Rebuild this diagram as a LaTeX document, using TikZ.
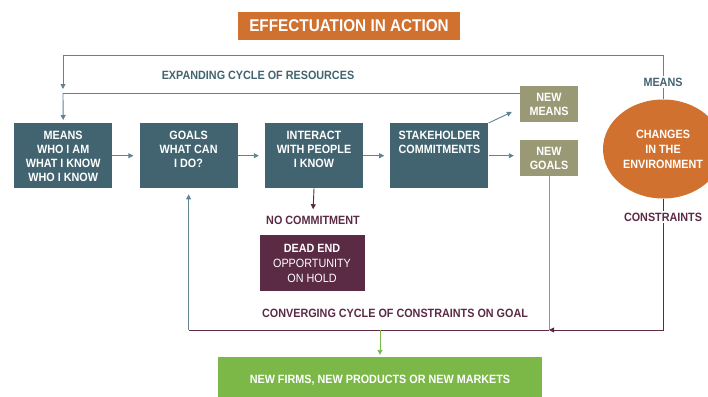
\documentclass[tikz,border=0pt]{standalone}
\usepackage{fontspec}
\setmainfont{Liberation Sans}[FakeStretch=0.9]
\usepackage{xcolor}
\usetikzlibrary{arrows.meta,positioning,shapes.geometric}

\definecolor{efTeal}{HTML}{426470}
\definecolor{efLine}{HTML}{5F8390}
\definecolor{efOlive}{HTML}{999A75}
\definecolor{efOrange}{HTML}{D1712F}
\definecolor{efMaroon}{HTML}{5B2A45}
\definecolor{efGreen}{HTML}{7BB848}

\newcommand{\cardtext}[1]{\parbox[c][65pt][t]{98pt}{\vspace*{8pt}\centering #1\par}}

\begin{document}
\begin{tikzpicture}[x=1pt, y=-1pt, >={Triangle[length=5pt,width=5pt]},
    font=\fontsize{12}{14}\selectfont\bfseries,
    card/.style={rectangle, fill=efTeal, text=white, inner sep=0pt},
    result/.style={rectangle, fill=efOlive, text=white, align=center, minimum width=58pt, minimum height=36pt, inner sep=0pt},
    tag/.style={fill=white, inner sep=1.5pt},
    line/.style={draw=efLine, line width=0.9pt}]
    \useasboundingbox (0,0) rectangle (708,396);
    \node[fill=efOrange, text=white, minimum width=222pt, minimum height=28pt,
        font=\fontsize{17}{19}\selectfont\bfseries] (title) at (349,26) {EFFECTUATION IN ACTION};
    % main chain
    \node[card, anchor=north west] (means) at (14,123) {\cardtext{MEANS\\WHO I AM\\WHAT I KNOW\\WHO I KNOW}};
    \node[card, right=27pt of means] (goals) {\cardtext{GOALS\\WHAT CAN\\I DO?}};
    \node[card, right=27pt of goals] (interact) {\cardtext{INTERACT\\WITH PEOPLE\\I KNOW}};
    \node[card, right=27pt of interact] (stake) {\cardtext{STAKEHOLDER\\COMMITMENTS}};
    \node[result] (newmeans) at (549,104) {NEW\\MEANS};
    \node[result] (newgoals) at (549,158) {NEW\\GOALS};
    \node[ellipse, fill=efOrange, text=white, align=center, minimum width=120pt, minimum height=99pt,
        inner sep=0pt, font=\fontsize{12}{15}\selectfont\bfseries] (env) at (663,149) {CHANGES\\IN THE\\ENVIRONMENT};
    \node[text=efMaroon] (nocommit) at (313,220) {NO COMMITMENT};
    \node[fill=efMaroon, text=white, align=center, minimum width=105pt, minimum height=56pt,
        font=\fontsize{12}{15}\selectfont\bfseries] (deadend) at (312,263)
        {DEAD END\\{\mdseries OPPORTUNITY}\\{\mdseries ON HOLD}};
    \node[fill=efGreen, text=white, minimum width=324pt, minimum height=46pt] (firms) at (380,380)
        {NEW FIRMS, NEW PRODUCTS OR NEW MARKETS};
    \node[text=efTeal] (expand) at (258,75) {EXPANDING CYCLE OF RESOURCES};
    \node[text=efMaroon] (converge) at (395,313) {CONVERGING CYCLE OF CONSTRAINTS ON GOAL};
    % cycles
    \coordinate (topleft) at (63,55);
    \coordinate (cyc) at (63,93);
    \coordinate (bottom) at (0,330);
    \draw[line, ->, shorten >=4pt] (env.north) -- node[tag, text=efTeal, pos=0.39] (meanslbl) {MEANS}
        (env.north |- topleft) -- (topleft) -- (cyc);
    \draw[line] (newmeans.west |- cyc) -- (cyc);
    \draw[line, ->, shorten >=3pt] (cyc) -- (means.north);
    \draw[line, ->, shorten >=6pt] (means) -- (goals);
    \draw[line, ->, shorten >=6pt] (goals) -- (interact);
    \draw[line, ->, shorten >=6pt] (interact) -- (stake);
    \draw[line, ->, shorten >=6pt] (stake.east) -- (stake.east -| newgoals.west);
    \draw[line, ->] (stake.north east) -- ([shift={(-8pt,-8pt)}]newmeans.west);
    \draw[draw=efMaroon, line width=0.9pt, ->, shorten >=3pt] (interact.south) -- (nocommit.north);
    \draw[draw=efOlive, line width=0.9pt] (newgoals.south) -- (newgoals.south |- bottom);
    \draw[draw=efMaroon, line width=0.9pt, ->] (env.south) -- node[tag, text=efMaroon, pos=0.14] (constlbl) {CONSTRAINTS}
        (env.south |- bottom) -- (newgoals.south |- bottom);
    \draw[draw=efMaroon, line width=0.9pt] (newgoals.south |- bottom) -- (goals.south |- bottom);
    \draw[line, ->, shorten >=6pt] (goals.south |- bottom) -- (goals.south);
    \draw[draw=efGreen, line width=0.9pt, ->, shorten >=2pt] (firms.north |- bottom) -- (firms.north);
\end{tikzpicture}
\end{document}
